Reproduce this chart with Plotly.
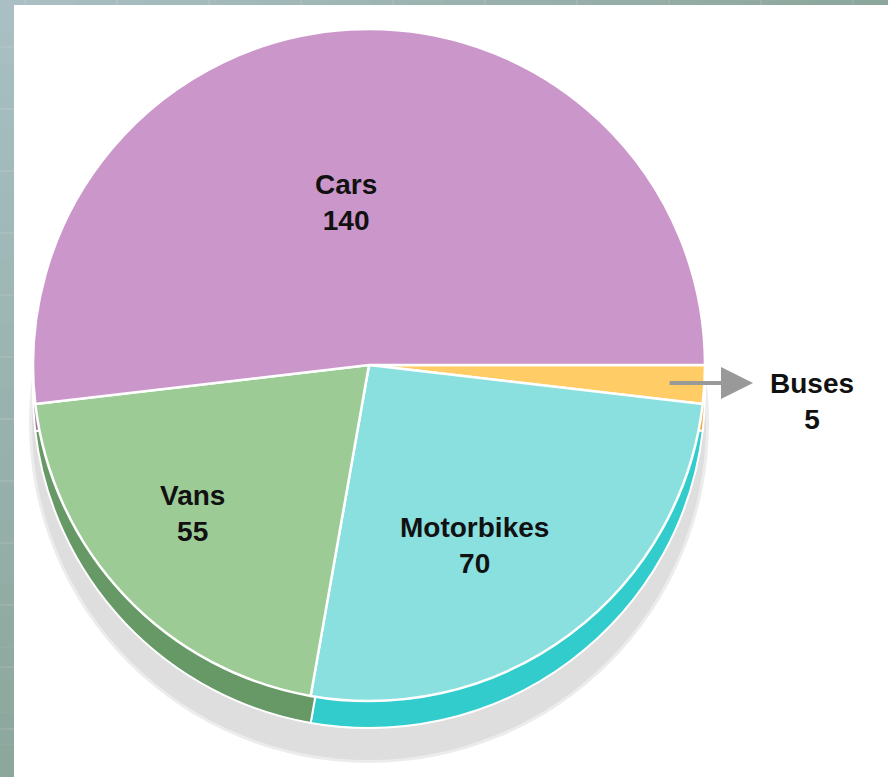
import plotly.graph_objects as go

# Vehicle counts
categories = ["Cars", "Vans", "Motorbikes", "Buses"]
counts = [140, 55, 70, 5]
face_colors = ["#cb97cb", "#9dcb96", "#8adfdf", "#ffcc66"]
rim_colors = ["#a070a0", "#669966", "#33cccc", "#f0a838"]

W, H = 888, 777
CX, CY, R = 369, 365, 336      # pie centre and radius in px
RIM_DROP = 27                  # depth of the 3-D edge
SHADOW_DROP = 58               # offset of the drop shadow

# label block centres (px) for each category
LABEL_XY = {"Cars": (346, 202), "Vans": (192, 513),
            "Motorbikes": (474, 545), "Buses": (812, 401)}
FONT = dict(family="Liberation Sans, Arial", size=28, color="#111111", weight="bold")


def domain(cx, cy, r):
    return dict(x=[(cx - r) / W, (cx + r) / W],
                y=[1 - (cy + r) / H, 1 - (cy - r) / H])


# clockwise from 3 o'clock with the list reversed gives Cars..Buses counter-clockwise
order = list(reversed(range(len(categories))))
labels_r = [categories[i] for i in order]
values_r = [counts[i] for i in order]
face_r = [face_colors[i] for i in order]
rim_r = [rim_colors[i] for i in order]

common = dict(sort=False, direction="clockwise", rotation=90,
              hoverinfo="skip", showlegend=False, textinfo="none")

fig = go.Figure()

# soft drop shadow (halo + core)
fig.add_trace(go.Pie(values=[1], labels=["s1"], domain=domain(CX, CY + SHADOW_DROP, R + 4),
                     marker=dict(colors=["#ececec"], line=dict(width=0)), **common))
fig.add_trace(go.Pie(values=[1], labels=["s2"], domain=domain(CX, CY + SHADOW_DROP, R + 1),
                     marker=dict(colors=["#dedede"], line=dict(width=0)), **common))

# darker edge of the pie
fig.add_trace(go.Pie(values=values_r, labels=labels_r, domain=domain(CX, CY + RIM_DROP, R),
                     marker=dict(colors=rim_r, line=dict(color="white", width=2)),
                     **common))

# pie face
fig.add_trace(go.Pie(values=values_r, labels=labels_r, domain=domain(CX, CY, R),
                     marker=dict(colors=face_r, line=dict(color="white", width=2.5)),
                     **common))

shapes = []
# background strips (left and top) with a soft gradient
N = 24
for k in range(N):
    t = k / (N - 1)
    c0 = (0xa9, 0xbf, 0xc3)
    c1 = (0x8c, 0xa7, 0x9c)
    col = "rgb(%d,%d,%d)" % tuple(round(a + (b - a) * t) for a, b in zip(c0, c1))
    shapes.append(dict(type="rect", xref="paper", yref="paper", layer="below",
                       x0=0, x1=14 / W, y0=1 - (k + 1) / N, y1=1 - k / N,
                       fillcolor=col, line=dict(width=0)))
    shapes.append(dict(type="rect", xref="paper", yref="paper", layer="below",
                       x0=k / N, x1=(k + 1) / N, y0=1 - 5 / H, y1=1,
                       fillcolor=col, line=dict(width=0)))
# faint tile seams on the strips
for yy in range(47, H, 62):
    shapes.append(dict(type="line", xref="paper", yref="paper", layer="below",
                       x0=0, x1=14 / W, y0=1 - yy / H, y1=1 - yy / H,
                       line=dict(color="rgba(255,255,255,0.18)", width=1)))
for xx in range(25, W, 92):
    shapes.append(dict(type="line", xref="paper", yref="paper", layer="below",
                       x0=xx / W, x1=xx / W, y0=1 - 5 / H, y1=1,
                       line=dict(color="rgba(255,255,255,0.18)", width=1)))
# white panel
shapes.append(dict(type="rect", xref="paper", yref="paper", layer="below",
                   x0=14 / W, x1=1, y0=0, y1=1 - 5 / H,
                   fillcolor="white", line=dict(width=0)))

annotations = [
    # arrow pointing out of the small Buses slice
    dict(x=753 / W, y=1 - 383 / H, xref="paper", yref="paper",
         ax=-85, ay=0, text="", showarrow=True,
         arrowhead=2, arrowsize=1.6, arrowwidth=4, arrowcolor="#999999"),
]
for name, val in zip(categories, counts):
    lx, ly = LABEL_XY[name]
    annotations.append(dict(x=lx / W, y=1 - ly / H, xref="paper", yref="paper",
                            text=f"{name}<br>{val}", showarrow=False, font=FONT,
                            xanchor="center", yanchor="middle"))

fig.update_layout(width=W, height=H, autosize=False,
                  margin=dict(l=0, r=0, t=0, b=0),
                  paper_bgcolor="#9fb7b6", plot_bgcolor="white",
                  shapes=shapes, annotations=annotations)

fig.write_html("out.html")
